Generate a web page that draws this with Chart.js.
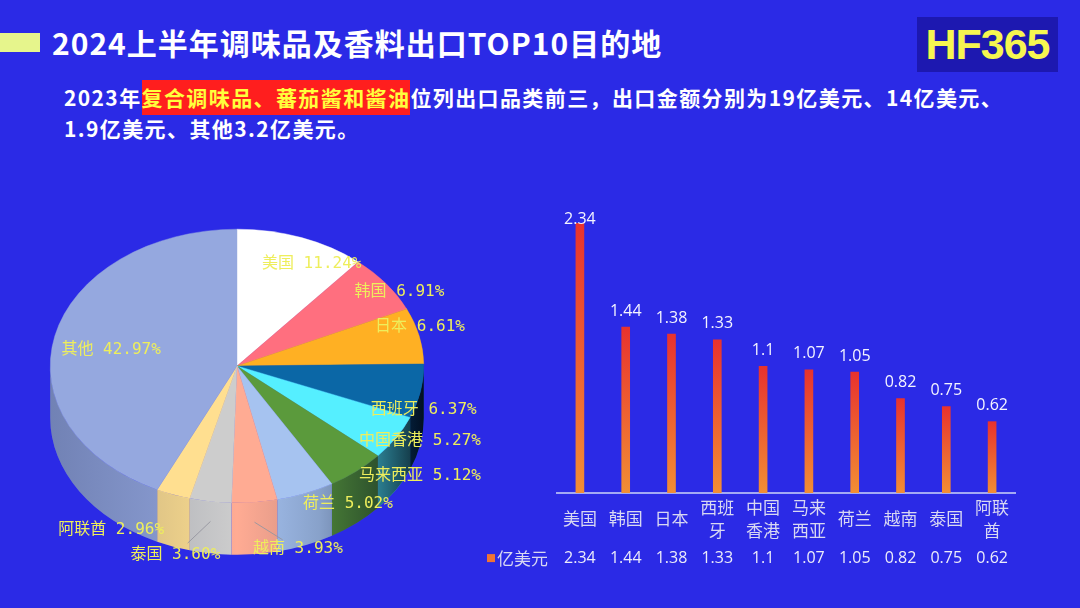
<!DOCTYPE html>
<html>
<head>
<meta charset="utf-8">
<script src="https://cdn.jsdelivr.net/npm/chart.js@4.4.1/dist/chart.umd.min.js"></script>
<style>
  html, body { margin: 0; padding: 0; }
  body { width: 1080px; height: 608px; background: #2b2ae6; position: relative; overflow: hidden;
         font-family: "Noto Sans CJK SC", "Noto Sans", sans-serif; }
  .bar-mark { position: absolute; left: 0; top: 33px; width: 40px; height: 19px; background: #e6f58c; }
  .title { position: absolute; left: 52px; top: 20px; color: #fff; font-size: 30px; font-weight: bold; line-height: 44px; white-space: nowrap; letter-spacing: 1px; }
  .logo { position: absolute; left: 917px; top: 17px; width: 141px; height: 55px; background: #1d18b0;
          color: #f6f650; font-family: "Liberation Sans", Arial, sans-serif; font-weight: bold; font-size: 43px;
          line-height: 55px; text-align: center; letter-spacing: -1px; }
  .sub { position: absolute; left: 64px; top: 82px; width: 1000px; color: #fff; font-size: 21px; font-weight: bold;
         line-height: 31px; letter-spacing: 1.4px; white-space: nowrap; }
  .hl { background: #ff1e1e; color: #ffff3c; padding: 2px 0 3px 0; }
  #pie { position: absolute; left: 0; top: 170px; }
  #bar { position: absolute; left: 470px; top: 190px; }
</style>
</head>
<body>
<div class="bar-mark"></div>
<div class="title">2024上半年调味品及香料出口TOP10目的地</div>
<div class="logo">HF365</div>
<div class="sub">2023年<span class="hl">复合调味品、蕃茄酱和酱油</span>位列出口品类前三，出口金额分别为19亿美元、14亿美元、<br>1.9亿美元、其他3.2亿美元。</div>
<canvas id="pie" width="500" height="430"></canvas>
<canvas id="bar" width="560" height="390"></canvas>
<script>
// ---------- DATA ----------
const pieCategories = ['美国', '韩国', '日本', '西班牙', '中国香港', '马来西亚', '荷兰', '越南', '泰国', '阿联酋', '其他'];
const pieShares = [11.24, 6.91, 6.61, 6.37, 5.27, 5.12, 5.02, 3.93, 3.60, 2.96, 42.97];
const pieColors = ['#ffffff', '#ff6f7f', '#ffb023', '#0b67a6', '#55efff', '#5b9a3c', '#a6c3f0', '#ffab93', '#cdcdcd', '#ffdf90', '#95a8df'];

const barCategories = [['美国'], ['韩国'], ['日本'], ['西班', '牙'], ['中国', '香港'], ['马来', '西亚'], ['荷兰'], ['越南'], ['泰国'], ['阿联', '酋']];
const barValues = [2.34, 1.44, 1.38, 1.33, 1.1, 1.07, 1.05, 0.82, 0.75, 0.62];
const barSeriesName = '亿美元';

// ---------- PIE LAYOUT (label placement relative to ellipse radii) ----------
const pieLabelPos = [[0.40, -0.745], [0.87, -0.54], [0.98, -0.285], [1.0, 0.32], [0.98, 0.55], [0.98, 0.80],
                     [0.594, 1.007], [0.326, 1.34], [-0.33, 1.38], [-0.674, 1.20], [-0.674, -0.117]];
const pieLeader = [false, false, false, false, false, false, false, true, true, false, false];
const TILT = 137 / 187;
const DEPTH = 52;

const pie3d = {
  id: 'pie3d',
  beforeDatasetsDraw(chart) {
    const ctx = chart.ctx;
    const arcs = chart.getDatasetMeta(0).data;
    const cx = arcs[0].x, cy = arcs[0].y, r = arcs[0].outerRadius;
    const d = DEPTH / TILT;
    ctx.save();
    ctx.translate(cx, cy); ctx.scale(1, TILT); ctx.translate(-cx, -cy);
    arcs.forEach((a) => {
      const s = Math.max(a.startAngle, 0), e = Math.min(a.endAngle, Math.PI);
      if (e <= s) return;
      ctx.beginPath();
      ctx.arc(cx, cy, r, s, e);
      ctx.arc(cx, cy + d, r, e, s, true);
      ctx.closePath();
      ctx.fillStyle = a.options.backgroundColor;
      ctx.fill();
      const g = ctx.createLinearGradient(cx - r, 0, cx + r, 0);
      g.addColorStop(0, 'rgba(20,30,70,0.28)');
      g.addColorStop(0.3, 'rgba(20,30,70,0.12)');
      g.addColorStop(0.5, 'rgba(20,30,70,0.0)');
      g.addColorStop(0.72, 'rgba(0,10,30,0.18)');
      g.addColorStop(0.88, 'rgba(0,10,30,0.5)');
      g.addColorStop(1, 'rgba(0,0,10,0.85)');
      ctx.fillStyle = g;
      ctx.fill();
    });
  },
  afterDatasetsDraw(chart) {
    const ctx = chart.ctx;
    ctx.restore();
    const arcs = chart.getDatasetMeta(0).data;
    const cx = arcs[0].x, cy = arcs[0].y, rx = arcs[0].outerRadius, ry = rx * TILT;
    ctx.save();
    ctx.font = '16px "DejaVu Sans Mono", "Noto Sans CJK SC", monospace';
    ctx.fillStyle = '#eeee5c';
    ctx.textAlign = 'center';
    ctx.textBaseline = 'middle';
    arcs.forEach((a, i) => {
      const lx = cx + pieLabelPos[i][0] * rx, ly = cy + pieLabelPos[i][1] * ry;
      if (pieLeader[i]) {
        const mid = (a.startAngle + a.endAngle) / 2;
        const px = cx + rx * Math.cos(mid), py = cy + ry * Math.sin(mid) + 20;
        ctx.save();
        ctx.strokeStyle = 'rgba(150,150,160,0.9)';
        ctx.lineWidth = 1;
        ctx.beginPath();
        ctx.moveTo(px, py);
        ctx.lineTo(px + (lx - px) * 0.65, py + (ly - py) * 0.65);
        ctx.stroke();
        ctx.restore();
      }
      ctx.fillText(pieCategories[i] + ' ' + pieShares[i].toFixed(2) + '%', lx, ly);
    });
    ctx.restore();
  }
};

new Chart(document.getElementById('pie'), {
  type: 'pie',
  data: {
    labels: pieCategories,
    datasets: [{ data: pieShares, backgroundColor: pieColors, borderColor: pieColors, borderWidth: 0.5 }]
  },
  options: {
    responsive: false,
    animation: false,
    layout: { padding: { left: 50, right: 76, top: 9, bottom: 47 } },
    plugins: { legend: { display: false }, tooltip: { enabled: false } }
  },
  plugins: [pie3d]
});

// ---------- BAR ----------
const barLabels = {
  id: 'barLabels',
  afterDatasetsDraw(chart) {
    const ctx = chart.ctx;
    const meta = chart.getDatasetMeta(0);
    ctx.save();
    ctx.font = '16px "Open Sans", sans-serif';
    ctx.fillStyle = '#f4f4ff';
    ctx.textAlign = 'center';
    ctx.textBaseline = 'middle';
    meta.data.forEach((b, i) => {
      const y = Math.max(b.y - 16, chart.chartArea.top + 14);
      ctx.fillText(String(barValues[i]), b.x, y);
    });
    ctx.restore();
  },
  afterDraw(chart) {
    // data table row beneath the category axis
    const ctx = chart.ctx;
    const xs = chart.scales.x;
    const y = xs.top + 65;
    ctx.save();
    ctx.font = '16px "Open Sans", sans-serif';
    ctx.fillStyle = '#ececfa';
    ctx.textAlign = 'center';
    ctx.textBaseline = 'middle';
    barValues.forEach((v, i) => ctx.fillText(String(v), xs.getPixelForValue(i), y));
    ctx.fillStyle = '#f07434';
    ctx.fillRect(17, y - 4, 8, 8);
    ctx.font = '17px "Noto Sans CJK SC", sans-serif';
    ctx.fillStyle = '#d8d8f2';
    ctx.textAlign = 'left';
    ctx.fillText(barSeriesName, 27, y);
    ctx.restore();
  }
};

function barGradient(context) {
  const chart = context.chart;
  if (!chart.chartArea || context.dataIndex === undefined) return '#ec5a30';
  const ys = chart.scales.y;
  const top = ys.getPixelForValue(barValues[context.dataIndex]);
  const base = ys.getPixelForValue(0);
  const g = chart.ctx.createLinearGradient(0, top, 0, base);
  g.addColorStop(0, '#e8322e');
  g.addColorStop(1, '#f28e34');
  return g;
}

new Chart(document.getElementById('bar'), {
  type: 'bar',
  data: {
    labels: barCategories,
    datasets: [{ label: barSeriesName, data: barValues, backgroundColor: barGradient, barThickness: 8, borderWidth: 0 }]
  },
  options: {
    responsive: false,
    animation: false,
    layout: { padding: { left: 87, right: 15, top: 15, bottom: 13 } },
    plugins: { legend: { display: false }, tooltip: { enabled: false } },
    scales: {
      y: { display: false, min: 0, max: 2.5 },
      x: {
        position: 'bottom',
        grid: { display: false, drawTicks: false },
        border: { display: true, color: '#a4aaf4', width: 2 },
        ticks: { color: '#d8d8f2', font: { size: 17, family: '"Noto Sans CJK SC", sans-serif', lineHeight: 1.35 },
                 padding: 14, crossAlign: 'center', maxRotation: 0, minRotation: 0, autoSkip: false }
      }
    }
  },
  plugins: [barLabels]
});
</script>
</body>
</html>
